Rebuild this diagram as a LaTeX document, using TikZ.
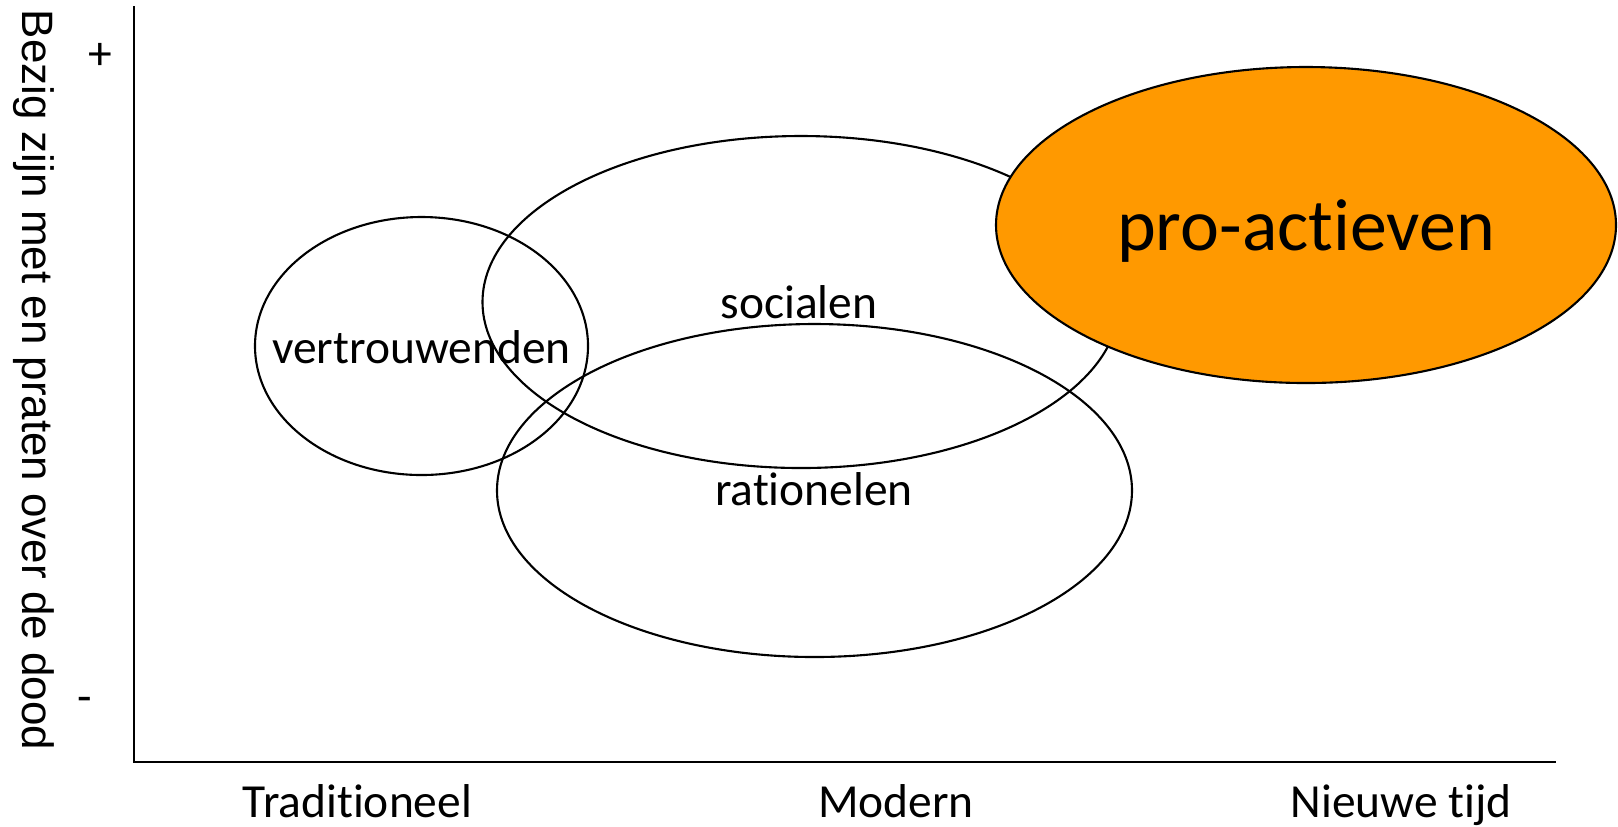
\documentclass[tikz,border=0pt]{standalone}
\usepackage{fontspec}
\setmainfont{Carlito}[Ligatures={NoCommon,NoContextual}]
\newfontfamily\axisfont{Liberation Sans}
\usepackage{xcolor}
\definecolor{proorange}{RGB}{255,153,0}

\begin{document}
\begin{tikzpicture}[x=0.01cm, y=-0.01cm,
  ring/.style={draw, line width=0.6pt},
  lbl/.style={anchor=base, inner sep=0pt, font=\fontsize{13.5}{15}\selectfont},
  axis/.style={draw, line width=0.8pt}]
  \useasboundingbox (0,0) rectangle (1618,826);

  % axes
  \coordinate (ytop) at (134,6);
  \coordinate (origin) at (134,762);
  \coordinate (xend) at (1556,762);
  \draw[axis] (ytop) -- (origin) -- (xend);
  \node[lbl] (plus) at (100.5,69) {+};
  \node[lbl] (minus) at (85,712) {-};
  \node[anchor=base, inner sep=0pt, rotate=-90, font=\axisfont\fontsize{12.5}{14}\selectfont] (ylabel) at (22,380) {Bezig zijn met en praten over de dood};
  \node[lbl] (trad) at (357.5,817) {Traditioneel};
  \node[lbl] (mod) at (896,817) {Modern};
  \node[lbl] (nieuw) at (1401,817) {Nieuwe tijd};

  % groups
  \coordinate (cvert) at (421.5,346);
  \coordinate (csoc) at (801,302);
  \coordinate (crat) at (814.5,490.5);
  \coordinate (cpro) at (1306,225);
  \draw[ring] (cvert) ellipse [x radius=166.5, y radius=129];
  \draw[ring] (csoc) ellipse [x radius=318.5, y radius=166];
  \draw[ring] (crat) ellipse [x radius=317.5, y radius=166.5];
  \draw[ring, fill=proorange] (cpro) ellipse [x radius=310, y radius=158];
  \node[lbl] (vert) at (421.5,363) {vertrouwenden};
  \node[lbl] (soc) at (799,318) {socialen};
  \node[lbl] (rat) at (814,505) {rationelen};
  \node[lbl, font=\fontsize{21}{24}\selectfont] (pro) at (1306,250) {pro-actieven};
\end{tikzpicture}
\end{document}
